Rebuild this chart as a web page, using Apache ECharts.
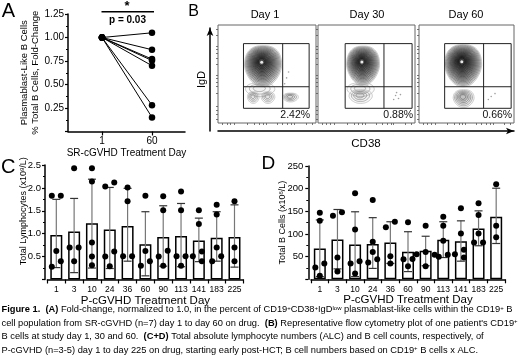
<!DOCTYPE html>
<html>
<head>
<meta charset="utf-8">
<title>Figure 1</title>
<script src="https://cdn.jsdelivr.net/npm/echarts@6/dist/echarts.min.js"></script>
<style>
  html, body { margin: 0; padding: 0; background: #fff; }
  #chart { width: 520px; height: 355px; }
</style>
</head>
<body>
<div id="chart"></div>
<script>
// ---- panel A: fold-change per patient, day 1 -> day 60
var dayA = ['1', '60'];
var foldDay1 = [1, 1, 1, 1, 1, 1, 1];
var foldDay60 = [1.05, 0.87, 0.77, 0.755, 0.70, 0.28, 0.15];

// ---- panel B: flow plots (axes 0-100 inside each box)
var flowDays = ['Day 1', 'Day 30', 'Day 60'];
var flowPct = ['2.42%', '0.88%', '0.66%'];
var gateX = [[26, 66, 93], [28, 68, 97], [27, 68, 97]];   // left, split, right
var gateY = [15, 37, 81];                                  // bottom, split, top
// contour blobs: [box, cx, cy, rx, ry, rings, darkness]
var blobs = [
  [0, 46, 58, 19, 21, 16, 1.0],
  [0, 43, 34, 15, 7, 3, 0.25],
  [0, 36, 26, 6, 6, 4, 0.35],
  [0, 51, 26, 7, 6, 4, 0.35],
  [0, 74, 26, 8, 4.5, 4, 0.5],
  [1, 46.5, 58.5, 17, 20, 16, 1.0],
  [1, 44, 34, 14, 7, 3, 0.25],
  [1, 44, 27, 12, 7, 4, 0.35],
  [2, 46.5, 58.5, 19.5, 21.5, 18, 1.0],
  [2, 47, 25, 11, 9, 6, 0.55]
];
var eventsDay1 = [[70, 46], [72, 52], [68, 40]];
var eventsDay30 = [[80, 28], [83, 25], [78, 24], [85, 29], [81, 31]];
var eventsDay60 = [[76, 27], [80, 30], [73, 24]];
var tickPos = [4, 9, 13, 17, 30, 37, 42, 46, 49, 60, 66, 71, 75, 78, 90, 96];

// ---- panels C + D
var daysCD = ['1', '3', '10', '24', '36', '60', '90', '113', '141', '183', '225'];
var lymMean = [0.97, 1.05, 1.23, 1.09, 1.17, 0.77, 0.93, 0.95, 0.85, 0.91, 0.93];
var lymLo = [0.26, 0.15, 0.25, 0.24, 0.40, 0.08, 0.29, 0.28, 0.39, 0.40, 0.27];
var lymHi = [1.75, 1.77, 2.19, 2.01, 1.99, 1.48, 1.61, 1.66, 1.34, 1.48, 1.63];
var lymPts = [
  [1.83, 1.83, 0.62, 0.40, 0.28],
  [2.43, 0.70, 0.70, 0.40],
  [2.43, 2.14, 0.81, 0.50, 0.31],
  [2.12, 2.03, 0.61, 0.50, 0.29],
  [2.01, 1.71, 0.51, 0.51],
  [1.83, 0.62, 0.40, 0.30],
  [1.82, 1.51, 0.63, 0.50, 0.30],
  [1.92, 1.51, 0.51, 0.51, 0.30],
  [1.51, 1.21, 0.61, 0.51, 0.40],
  [1.63, 1.42, 0.70, 0.51, 0.40],
  [1.71, 0.70, 0.40]
];
var bMean = [68, 88, 77, 78, 81, 61, 63, 87, 84, 112, 138];
var bLo = [6, 23, 6, 24, 35, 17, 30, 48, 40, 74, 79];
var bHi = [131, 154, 149, 136, 127, 105, 95, 127, 129, 151, 201];
var bPts = [
  [147, 129, 35, 26, 8],
  [140, 148, 48, 17],
  [190, 110, 40, 35, 13],
  [175, 83, 60, 44, 37],
  [127, 115, 51, 35],
  [126, 45, 44, 29],
  [118, 60, 54, 55, 29],
  [138, 118, 85, 50, 54],
  [157, 101, 65, 55, 48],
  [168, 142, 101, 81, 81],
  [210, 118, 93]
];

var FONT = '"Liberation Sans", Arial, sans-serif';
var sup = { s: { fontSize: 6, verticalAlign: 'top', lineHeight: 6 } };

// spread dots sideways where they would overlap (column scatter layout)
function spreadDots(cols, pxPerUnit) {
  var out = [];
  cols.forEach(function (vals, ci) {
    var placed = [];
    vals.slice().sort(function (a, b) { return b - a; }).forEach(function (v) {
      var cands = [0, -9, 9, -18, 18];
      for (var i = 0; i < cands.length; i++) {
        var ok = true;
        for (var j = 0; j < placed.length; j++) {
          var ddx = cands[i] - placed[j].dx, ddy = (v - placed[j].v) * pxPerUnit;
          if (Math.sqrt(ddx * ddx + ddy * ddy) < 6.5) { ok = false; break; }
        }
        if (ok) { placed.push({ v: v, dx: cands[i] }); break; }
      }
    });
    // centre each run of neighbouring dots
    var group = [];
    function flush() {
      var m = 0;
      group.forEach(function (p) { m += p.dx; });
      m /= group.length;
      group.forEach(function (p) { out.push({ cat: ci, v: p.v, dx: p.dx - m }); });
      group = [];
    }
    placed.forEach(function (p) {
      if (group.length && (group[group.length - 1].v - p.v) * pxPerUnit >= 6.5) flush();
      group.push(p);
    });
    if (group.length) flush();
  });
  return out;
}

function blobShape(cx, cy, rx, ry) {
  var pts = [];
  for (var i = 0; i < 48; i++) {
    var t = i / 48 * Math.PI * 2;
    var ct = Math.cos(t), st = Math.sin(t);
    var x = Math.sign(ct) * Math.pow(Math.abs(ct), 0.8);
    var y = Math.sign(st) * Math.pow(Math.abs(st), 0.8);
    var taper = st > 0 ? 1 - 0.3 * st : 1;
    pts.push([cx + rx * x * taper, cy + ry * y]);
  }
  return pts;
}

function renderBlob(params, api) {
  var c = api.coord([api.value(1), api.value(2)]);
  var rx = api.size([api.value(3), 0])[0];
  var ry = api.size([0, api.value(4)])[1];
  var n = api.value(5), dark = api.value(6);
  var kids = [];
  var cy = c[1], cx = c[0];
  for (var k = 0; k < n; k++) {
    var f = k / n;
    var s = 1 - 0.88 * f;
    cy = c[1] - ry * 0.2 * f;
    cx = c[0] - rx * 0.08 * f;
    var g = Math.round(185 - dark * 170 * Math.pow(k / Math.max(n - 1, 1), 0.5));
    kids.push({
      type: 'polygon',
      shape: { points: blobShape(cx, cy, rx * s, ry * s) },
      style: { fill: 'rgba(0,0,0,' + (0.075 * dark) + ')', stroke: 'rgb(' + g + ',' + g + ',' + g + ')', lineWidth: 0.7 }
    });
  }
  if (dark > 0.9) {
    kids.push({ type: 'circle', shape: { cx: cx, cy: cy, r: 1.5 }, style: { fill: '#e8e8e8' } });
  }
  return { type: 'group', children: kids };
}

function renderGate(params, api) {
  var l = api.value(0), m = api.value(1), r = api.value(2);
  var b = api.value(3), h = api.value(4), t = api.value(5);
  var tl = api.coord([l, t]), br = api.coord([r, b]);
  var ms = api.coord([m, h]);
  var st = { stroke: '#222', lineWidth: 1, fill: null };
  return {
    type: 'group', children: [
      { type: 'rect', shape: { x: tl[0], y: tl[1], width: br[0] - tl[0], height: br[1] - tl[1] }, style: st },
      { type: 'line', shape: { x1: ms[0], y1: tl[1], x2: ms[0], y2: br[1] }, style: st },
      { type: 'line', shape: { x1: tl[0], y1: ms[1], x2: br[0], y2: ms[1] }, style: st },
      { type: 'text', x: br[0] + 1, y: br[1] + 7, style: { text: flowPct[api.value(6)], fontSize: 10.5, fontFamily: FONT, fill: '#111', align: 'right', verticalAlign: 'middle' } }
    ]
  };
}

function renderErr(params, api) {
  var lo = api.coord([api.value(0), api.value(1)]);
  var hi = api.coord([api.value(0), api.value(2)]);
  var w = 4;
  return {
    type: 'group', children: [
      { type: 'line', shape: { x1: hi[0], y1: hi[1], x2: lo[0], y2: lo[1] }, style: { stroke: '#777', lineWidth: 1.2 } },
      { type: 'line', shape: { x1: hi[0] - w, y1: hi[1], x2: hi[0] + w, y2: hi[1] }, style: { stroke: '#333', lineWidth: 1.2 } },
      { type: 'line', shape: { x1: lo[0] - w, y1: lo[1], x2: lo[0] + w, y2: lo[1] }, style: { stroke: '#333', lineWidth: 1.2 } }
    ]
  };
}

function renderDot(params, api) {
  var p = api.coord([api.value(0), api.value(1)]);
  return { type: 'circle', shape: { cx: p[0] + api.value(2), cy: p[1], r: 3 }, style: { fill: '#000' } };
}

function boxAxisX(i) {
  return {
    gridIndex: i, type: 'value', min: 0, max: 100, axisLine: { show: false, onZero: false },
    axisTick: { show: true, inside: false, length: 2, customValues: tickPos, lineStyle: { color: '#555', width: 0.8 } },
    axisLabel: { show: false }, splitLine: { show: false }
  };
}

var grids = [
  { left: 68, top: 14, width: 117, height: 117.5 },
  { left: 218, top: 25, width: 98, height: 98, show: true, borderColor: '#666', borderWidth: 1 },
  { left: 318, top: 25, width: 97, height: 98, show: true, borderColor: '#666', borderWidth: 1 },
  { left: 419, top: 25, width: 95, height: 98, show: true, borderColor: '#666', borderWidth: 1 },
  { left: 218, top: 28, width: 296, height: 103 },
  { left: 47.4, top: 165, width: 196, height: 114.5 },
  { left: 311, top: 166, width: 194, height: 113.3 }
];
grids.forEach(function (g) { g.outerBoundsMode = 'none'; g.containLabel = false; });

var axisBlack = { show: true, onZero: false, lineStyle: { color: '#000', width: 1.5 } };
var tickBlack = { show: true, length: 3, lineStyle: { color: '#000', width: 1.2 } };

var xAxes = [
  {
    gridIndex: 0, type: 'value', min: -0.68, max: 1.66,
    axisLine: axisBlack, splitLine: { show: false },
    axisTick: { show: true, length: 4, customValues: [0, 1], lineStyle: { color: '#000', width: 1.2 } },
    axisLabel: { customValues: [0, 1], formatter: function (v) { return dayA[Math.round(v)]; }, fontSize: 10, fontFamily: FONT, color: '#000', margin: 5 },
    name: 'SR-cGVHD Treatment Day', nameLocation: 'middle', nameGap: 16.5, nameMoveOverlap: false,
    nameTextStyle: { fontSize: 10, fontFamily: FONT, color: '#000' }
  },
  boxAxisX(1), boxAxisX(2), boxAxisX(3),
  {
    gridIndex: 4, type: 'value', min: 0, max: 1,
    axisLine: { show: true, onZero: false, symbol: ['none', 'arrow'], symbolSize: [5, 8], lineStyle: { color: '#000', width: 1.5 } },
    axisTick: { show: false }, axisLabel: { show: false }, splitLine: { show: false },
    name: 'CD38', nameLocation: 'middle', nameGap: 6.5, nameMoveOverlap: false,
    nameTextStyle: { fontSize: 11.5, fontFamily: FONT, color: '#000', verticalAlign: 'top' }
  }
];
[5, 6].forEach(function (gi) {
  xAxes.push({
    gridIndex: gi, type: 'category', data: daysCD, boundaryGap: true,
    axisLine: axisBlack, axisTick: { show: true, length: 4, lineStyle: { color: '#000', width: 1.2 } },
    axisLabel: { fontSize: 8.5, fontFamily: FONT, color: '#000', margin: 6, interval: 0 },
    name: 'P-cGVHD Treatment Day', nameLocation: 'middle', nameGap: 15, nameMoveOverlap: false,
    nameTextStyle: { fontSize: 11.5, fontFamily: FONT, color: '#000' }
  });
});

function boxAxisY(i) {
  return {
    gridIndex: i, type: 'value', min: 0, max: 100, axisLine: { show: false, onZero: false },
    axisTick: { show: true, inside: false, length: 2, customValues: tickPos, lineStyle: { color: '#555', width: 0.8 } },
    axisLabel: { show: false }, splitLine: { show: false }
  };
}

var yAxes = [
  {
    gridIndex: 0, type: 'value', min: 0, max: 1.25, interval: 0.25,
    axisLine: axisBlack, axisTick: tickBlack, splitLine: { show: false },
    minorTick: { show: true, splitNumber: 2, length: 2, lineStyle: { color: '#000' } },
    axisLabel: { formatter: function (v) { return v === 0 ? '' : v.toFixed(2); }, fontSize: 10, fontFamily: FONT, color: '#000', margin: 4 },
    name: 'Plasmablast-Like B Cells\n% Total B Cells, Fold-Change', nameLocation: 'middle', nameGap: 27, nameMoveOverlap: false,
    nameTextStyle: { fontSize: 9.5, lineHeight: 11, fontFamily: FONT, color: '#000' }
  },
  boxAxisY(1), boxAxisY(2), boxAxisY(3),
  {
    gridIndex: 4, type: 'value', min: 0, max: 1, offset: 8,
    axisLine: { show: true, onZero: false, symbol: ['none', 'arrow'], symbolSize: [5, 8], lineStyle: { color: '#000', width: 1.5 } },
    axisTick: { show: false }, axisLabel: { show: false }, splitLine: { show: false },
    name: 'IgD', nameLocation: 'middle', nameGap: 3, nameMoveOverlap: false,
    nameTextStyle: { fontSize: 11, fontFamily: FONT, color: '#000' }
  },
  {
    gridIndex: 5, type: 'value', min: 0, max: 2.5, interval: 0.5, offset: 2.4,
    axisLine: axisBlack, axisTick: tickBlack, splitLine: { show: false },
    minorTick: { show: true, splitNumber: 2, length: 2, lineStyle: { color: '#000' } },
    axisLabel: { formatter: function (v) { return v === 0 ? '' : v.toFixed(1); }, fontSize: 9.5, fontFamily: FONT, color: '#000', margin: 4 },
    name: 'Total Lymphocytes (x10{s|9}/L)', nameLocation: 'middle', nameGap: 17, nameMoveOverlap: false,
    nameTextStyle: { fontSize: 9, fontFamily: FONT, color: '#000', rich: sup, padding: [0, 0, 0, 22] }
  },
  {
    gridIndex: 6, type: 'value', min: 0, max: 250, interval: 50, offset: 2.7,
    axisLine: axisBlack, axisTick: tickBlack, splitLine: { show: false },
    minorTick: { show: true, splitNumber: 2, length: 2, lineStyle: { color: '#000' } },
    axisLabel: { formatter: function (v) { return v === 0 ? '' : String(v); }, fontSize: 9.5, fontFamily: FONT, color: '#000', margin: 5 },
    name: 'Total B Cells (x10{s|6}/L)', nameLocation: 'middle', nameGap: 21, nameMoveOverlap: false,
    nameTextStyle: { fontSize: 9, fontFamily: FONT, color: '#000', rich: sup }
  }
];

var series = [];

// A: one line per patient
foldDay1.forEach(function (v, i) {
  series.push({
    type: 'line', xAxisIndex: 0, yAxisIndex: 0, data: [[0, v], [1, foldDay60[i]]],
    symbol: 'circle', symbolSize: 6.5, itemStyle: { color: '#000' },
    lineStyle: { color: '#000', width: 1 }, silent: true, animation: false
  });
});

// B: contours, gates, sparse events
[0, 1, 2].forEach(function (b) {
  series.push({
    type: 'custom', xAxisIndex: b + 1, yAxisIndex: b + 1, renderItem: renderBlob,
    data: blobs.filter(function (d) { return d[0] === b; }), animation: false, silent: true
  });
  series.push({
    type: 'scatter', xAxisIndex: b + 1, yAxisIndex: b + 1, symbolSize: 1.6,
    itemStyle: { color: '#888' }, data: [eventsDay1, eventsDay30, eventsDay60][b], animation: false, silent: true
  });
  series.push({
    type: 'custom', xAxisIndex: b + 1, yAxisIndex: b + 1, renderItem: renderGate, z: 5,
    data: [[gateX[b][0], gateX[b][1], gateX[b][2], gateY[0], gateY[1], gateY[2], b]], animation: false, silent: true
  });
});

// C and D: mean bars, SD bars, individual points (categories passed by name)
[[5, lymMean, lymLo, lymHi, lymPts, 114.5 / 2.5], [6, bMean, bLo, bHi, bPts, 113.3 / 250]].forEach(function (p) {
  var ai = p[0];
  series.push({
    type: 'bar', xAxisIndex: ai, yAxisIndex: ai, data: p[1], barWidth: 12,
    itemStyle: { color: '#fff', borderColor: '#000', borderWidth: 1.5 }, animation: false, silent: true, z: 2
  });
  series.push({
    type: 'custom', xAxisIndex: ai, yAxisIndex: ai, renderItem: renderErr, z: 3,
    data: p[2].map(function (lo, i) { return [daysCD[i], lo, p[3][i]]; }), animation: false, silent: true
  });
  series.push({
    type: 'custom', xAxisIndex: ai, yAxisIndex: ai, renderItem: renderDot, z: 4,
    data: spreadDots(p[4], p[5]).map(function (d) { return [daysCD[d.cat], d.v, d.dx]; }), animation: false, silent: true
  });
});

function txt(x, y, text, size, extra) {
  var st = { text: text, fontSize: size, fontFamily: FONT, fill: '#000', align: 'center', verticalAlign: 'middle' };
  for (var k in (extra || {})) st[k] = extra[k];
  return { type: 'text', x: x, y: y, style: st };
}

var CAP = 9.3;
var capRich = {
  b: { fontWeight: 'bold', fontSize: CAP, fontFamily: FONT },
  s: { fontSize: 6, verticalAlign: 'top', lineHeight: 6, fontFamily: FONT }
};
var caption = [
  '{b|Figure 1.}  {b|(A)} Fold-change, normalized to 1.0, in the percent of CD19{s|+}CD38{s|+}IgD{s|low} plasmablast-like cells within the CD19{s|+} B',
  'cell population from SR-cGVHD (n=7) day 1 to day 60 on drug.  {b|(B)} Representative flow cytometry plot of one patient\'s CD19{s|+}',
  'B cells at study day 1, 30 and 60.  {b|(C+D)} Total absolute lymphocyte numbers (ALC) and B cell counts, respectively, of',
  'P-cGVHD (n=3-5) day 1 to day 225 on drug, starting early post-HCT; B cell numbers based on CD19{s|+} B cells x ALC.'
];
var capY = [309.5, 323, 336.7, 350.3];

var graphics = [
  txt(8.5, 11, 'A', 20),
  txt(193.5, 11.5, 'B', 16),
  txt(8.3, 167, 'C', 20),
  txt(268.3, 163.5, 'D', 19),
  txt(127, 6.5, '*', 13, { fontWeight: 'bold' }),
  txt(127.5, 20, 'p = 0.03', 10, { fontWeight: 'bold' }),
  { type: 'line', shape: { x1: 101.5, y1: 11.7, x2: 154, y2: 11.7 }, style: { stroke: '#000', lineWidth: 1.5 } }
];
flowDays.forEach(function (d, i) {
  graphics.push(txt([265, 367, 466][i], 15, d, 11));
});
caption.forEach(function (line, i) {
  graphics.push({
    type: 'text', x: 1.5, y: capY[i],
    style: { text: line, rich: capRich, fontSize: CAP, fontFamily: FONT, fill: '#000', align: 'left', verticalAlign: 'middle' }
  });
});

var chart = echarts.init(document.getElementById('chart'));
chart.setOption({
  animation: false,
  backgroundColor: '#fff',
  grid: grids,
  xAxis: xAxes,
  yAxis: yAxes,
  series: series,
  graphic: graphics
});
</script>
</body>
</html>
